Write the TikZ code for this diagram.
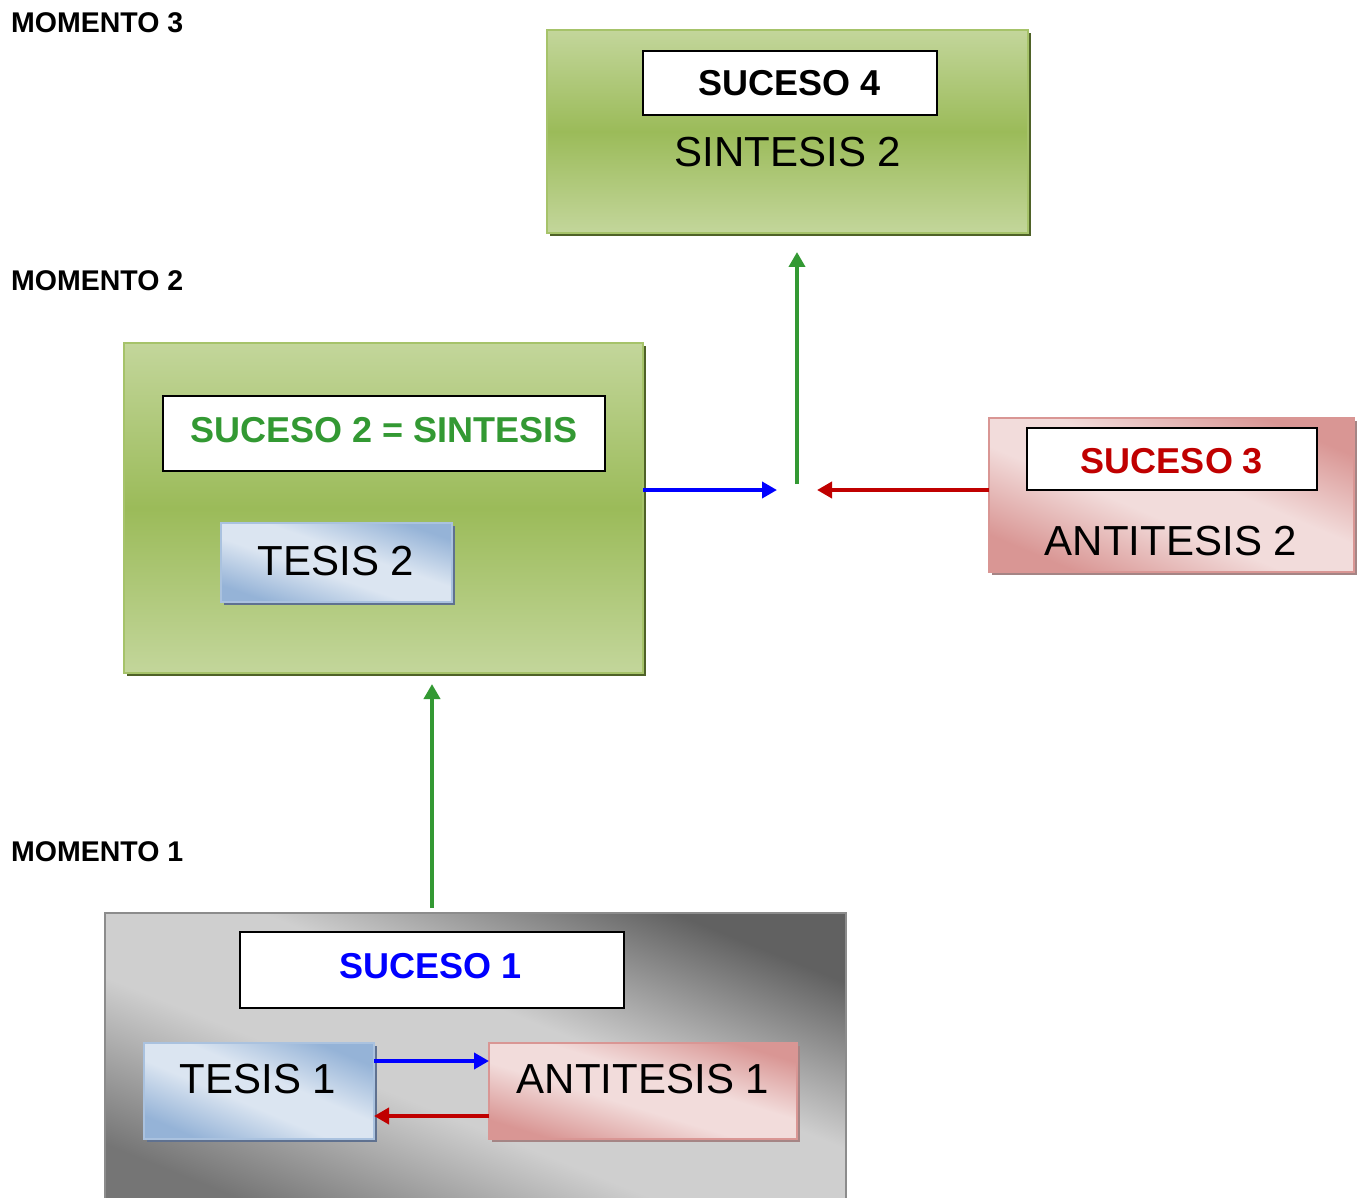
\documentclass[tikz,border=0pt]{standalone}
\usepackage{fontspec}
\setmainfont{Liberation Sans}
\usetikzlibrary{arrows.meta,shadows}
\definecolor{glight}{HTML}{C3D69B}
\definecolor{gmid}{HTML}{9BBB59}
\definecolor{gedge}{HTML}{A6C36A}
\definecolor{gshadow}{HTML}{4F6228}
\definecolor{blight}{HTML}{DBE5F1}
\definecolor{bdark}{HTML}{95B3D7}
\definecolor{bshadow}{HTML}{5F7190}
\definecolor{rlight}{HTML}{F2DCDB}
\definecolor{rdark}{HTML}{D99694}
\definecolor{rshadow}{HTML}{A58585}
\definecolor{arrgreen}{HTML}{339933}
\definecolor{arrred}{HTML}{C00000}
\definecolor{arrblue}{HTML}{0000FF}
\pgfdeclareverticalshading{graydiag}{100bp}{color(0bp)=(black!54); color(25bp)=(black!54); color(43bp)=(black!19); color(57bp)=(black!19); color(75bp)=(black!62); color(100bp)=(black!62)}
\pgfdeclareverticalshading{bluediag}{100bp}{color(0bp)=(bdark); color(25bp)=(bdark); color(44bp)=(blight); color(56bp)=(blight); color(75bp)=(bdark); color(100bp)=(bdark)}
\pgfdeclareverticalshading{reddiag}{100bp}{color(0bp)=(rdark); color(25bp)=(rdark); color(44bp)=(rlight); color(56bp)=(rlight); color(75bp)=(rdark); color(100bp)=(rdark)}
\begin{document}
\begin{tikzpicture}[x=1pt,y=-1pt,
  box/.style={rectangle,anchor=north west,inner sep=0pt,outer sep=0pt},
  greenbox/.style={box,draw=gedge,line width=2pt,top color=glight,bottom color=glight,middle color=gmid,
    general shadow={fill=gshadow,shadow xshift=3pt,shadow yshift=-3pt}},
  bluebox/.style={box,draw=bdark!80!white,line width=2pt,shade,shading=bluediag,shading angle=#1,
    general shadow={fill=bshadow,shadow xshift=3pt,shadow yshift=-3pt}},
  redbox/.style={box,draw=rdark,line width=2pt,shade,shading=reddiag,shading angle=#1,
    general shadow={fill=rshadow,shadow xshift=3pt,shadow yshift=-3pt}},
  graybox/.style={box,draw=gray!90,line width=2pt,shade,shading=graydiag,shading angle=#1},
  whitebox/.style={box,draw=black,line width=1.5pt,fill=white},
  momento/.style={anchor=base west,inner sep=0pt,font=\fontsize{28.5}{30}\selectfont\bfseries},
  sucesotxt/.style={anchor=base,inner sep=0pt,font=\fontsize{36}{38}\selectfont\bfseries},
  plaintxt/.style={anchor=base,inner sep=0pt,font=\fontsize{42}{44}\selectfont},
  conn/.style={line width=3.8pt,-{Triangle[length=15pt,width=16pt]}}]
\useasboundingbox (0,0) rectangle (1363,1198);
% labels
\node[momento] (m3) at (11,33) {MOMENTO 3};
\node[momento] (m2) at (11,291) {MOMENTO 2};
\node[momento] (m1) at (11,861) {MOMENTO 1};
% top box
\node[greenbox,minimum width=481pt,minimum height=203pt] (g4) at (547,30) {};
\node[whitebox,minimum width=294pt,minimum height=64pt] (w4) at (643,51) {};
\node[sucesotxt] (s4) at (790,96) {SUCESO 4};
\node[plaintxt] (sin2) at (788,167) {SINTESIS 2};
% middle green box
\node[greenbox,minimum width=519pt,minimum height=330pt] (g2) at (124,343) {};
\node[whitebox,minimum width=442pt,minimum height=75pt] (w2) at (163,396) {};
\node[sucesotxt,text=arrgreen] (s2) at (384,442) {SUCESO 2 = SINTESIS};
\node[bluebox=-19,minimum width=231pt,minimum height=79pt] (t2) at (221,523) {};
\node[plaintxt] (t2t) at (336,575) {TESIS 2};
% right red box
\node[redbox=-23,minimum width=365pt,minimum height=154pt] (r2) at (989,418) {};
\node[whitebox,minimum width=290pt,minimum height=62pt] (w3) at (1027,428) {};
\node[sucesotxt,text=arrred] (s3) at (1172,473) {SUCESO 3};
\node[plaintxt] (a2t) at (1171,555) {ANTITESIS 2};
% bottom gray box
\node[graybox=-22,minimum width=741pt,minimum height=300pt] (g1) at (105,913) {};
\node[whitebox,minimum width=384pt,minimum height=76pt] (w1) at (240,932) {};
\node[sucesotxt,text=arrblue] (s1) at (431,978) {SUCESO 1};
\node[bluebox=-23,minimum width=230pt,minimum height=96pt] (t1) at (144,1043) {};
\node[plaintxt] (t1t) at (258,1093) {TESIS 1};
\node[redbox=-17,minimum width=308pt,minimum height=96pt] (a1) at (489,1043) {};
\node[plaintxt] (a1t) at (643,1093) {ANTITESIS 1};
% coordinates
\coordinate (j) at (797,490);
\coordinate (jup) at (797,484);
\coordinate (g4in) at (797,252);
\coordinate (g1out) at (432,908);
\coordinate (g2in) at (432,684);
% connectors
\draw[conn,arrblue] (t1.east |- 0,1061) -- (a1.west |- 0,1061);
\draw[conn,arrred] (a1.west |- 0,1116) -- (t1.east |- 0,1116);
\draw[conn,arrgreen] (g1out) -- (g2in);
\draw[conn,arrblue] (g2.east |- j) -- ([xshift=-20pt]j);
\draw[conn,arrred] (r2.west |- j) -- ([xshift=20pt]j);
\draw[conn,arrgreen] (jup) -- (g4in);
\end{tikzpicture}
\end{document}
